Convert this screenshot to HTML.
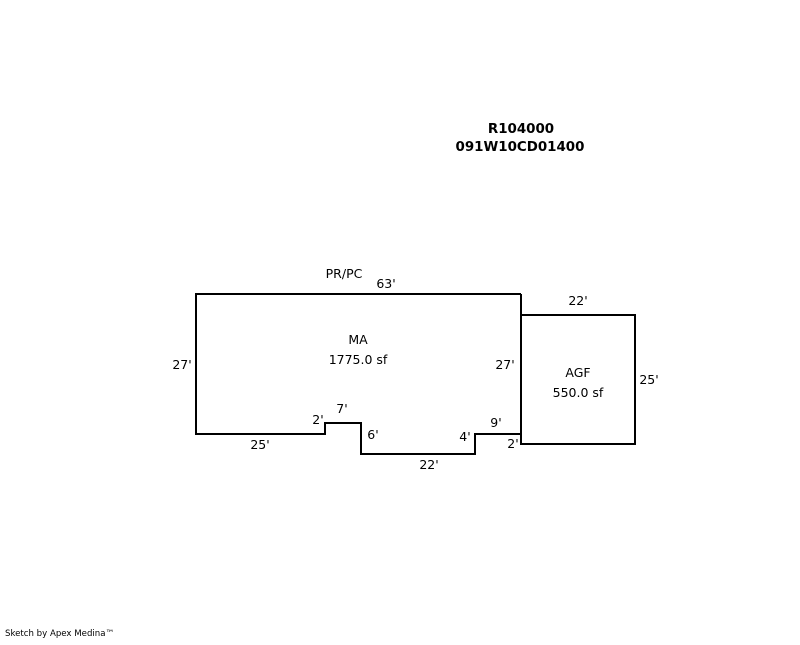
<!DOCTYPE html>
<html><head><style>
body{margin:0;background:#fff;}
svg text{font-family:"DejaVu Sans",sans-serif;font-size:12.5px;fill:#000;}
</style></head><body>
<svg width="800" height="640" xmlns="http://www.w3.org/2000/svg">
<g fill="none" stroke="#000" stroke-width="2">
<polyline points="521,294 196,294 196,434 325,434 325,423 361,423 361,454 475,454 475,434 521,434 521,294"/>
<rect x="521" y="315" width="114" height="129"/>
</g>
<text x="521" y="133" text-anchor="middle" font-weight="bold" style="font-size:13.4px">R104000</text>
<text x="520" y="151" text-anchor="middle" font-weight="bold" style="font-size:13.4px">091W10CD01400</text>
<text x="344" y="278" text-anchor="middle">PR/PC</text>
<text x="386" y="288" text-anchor="middle">63'</text>
<text x="578" y="305" text-anchor="middle">22'</text>
<text x="358" y="344" text-anchor="middle">MA</text>
<text x="358" y="364" text-anchor="middle">1775.0 sf</text>
<text x="182" y="369" text-anchor="middle">27'</text>
<text x="505" y="369" text-anchor="middle">27'</text>
<text x="578" y="377" text-anchor="middle">AGF</text>
<text x="578" y="397" text-anchor="middle">550.0 sf</text>
<text x="649" y="384" text-anchor="middle">25'</text>
<text x="342" y="413" text-anchor="middle">7'</text>
<text x="318" y="424" text-anchor="middle">2'</text>
<text x="496" y="427" text-anchor="middle">9'</text>
<text x="373" y="439" text-anchor="middle">6'</text>
<text x="465" y="441" text-anchor="middle">4'</text>
<text x="513" y="448" text-anchor="middle">2'</text>
<text x="260" y="449" text-anchor="middle">25'</text>
<text x="429" y="469" text-anchor="middle">22'</text>
<text x="5" y="636" style="font-size:8.6px">Sketch by Apex Medina™</text>
</svg>
</body></html>
